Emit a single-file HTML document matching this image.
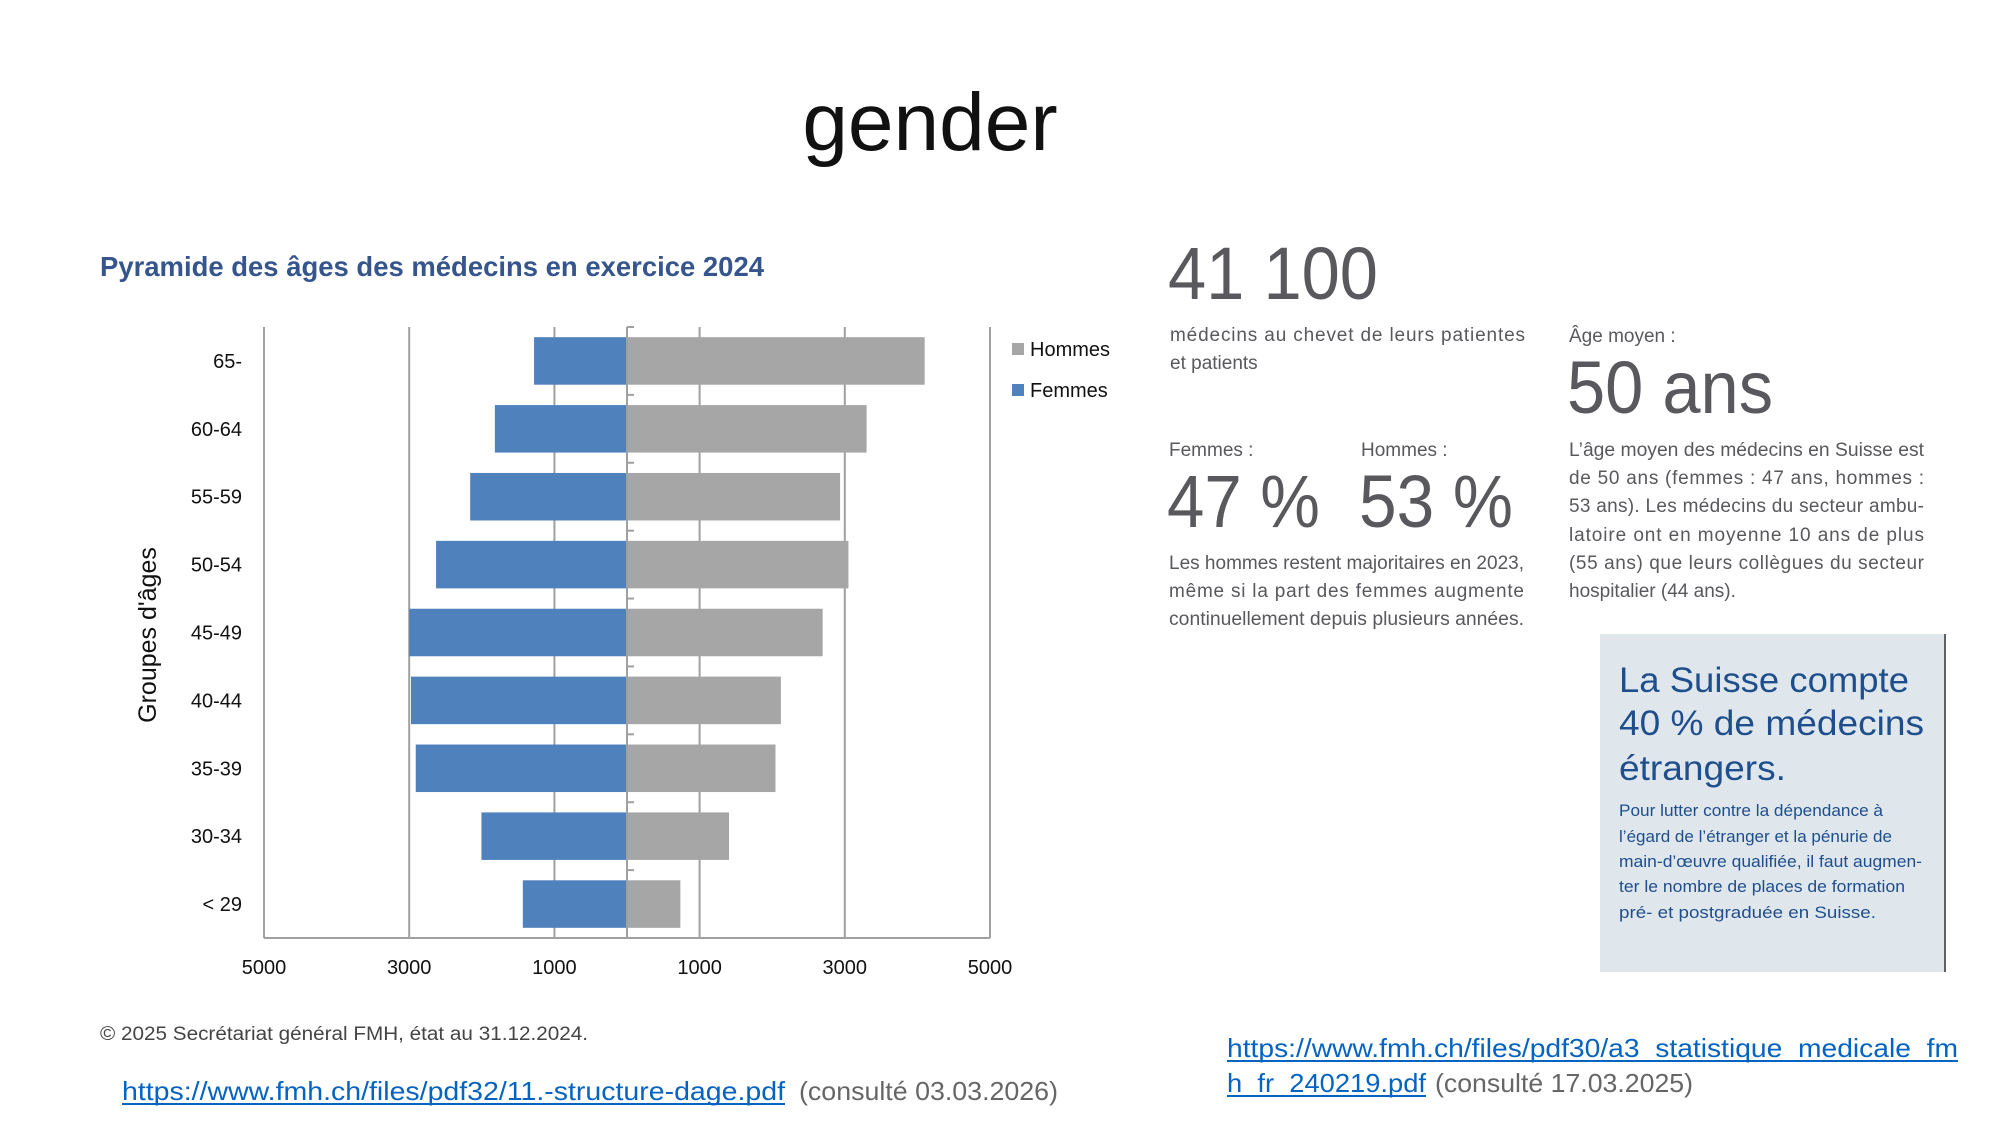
<!DOCTYPE html>
<html><head><meta charset="utf-8"><style>
html,body{margin:0;padding:0;background:#fff}
svg{display:block}
text{font-family:"Liberation Sans",sans-serif}
</style></head><body>
<svg id="s" width="2000" height="1125" viewBox="0 0 2000 1125">
<text x="930" y="150" font-size="82" text-anchor="middle" fill="#111">gender</text>
<text x="100" y="276" font-size="28" font-weight="bold" fill="#35558c" textLength="664" lengthAdjust="spacingAndGlyphs">Pyramide des âges des médecins en exercice 2024</text>
<g id="chart"></g>
<g>
<rect x="1012" y="343" width="12" height="12" fill="#a6a6a6"/>
<text x="1030" y="356" font-size="20" fill="#111">Hommes</text>
<rect x="1012" y="384" width="12" height="12" fill="#4f81bd"/>
<text x="1030" y="397" font-size="20" fill="#111">Femmes</text>
</g>
<g fill="#58585d">
<text x="1168" y="299" font-size="74" textLength="210" lengthAdjust="spacingAndGlyphs">41 100</text>
<text x="1170" y="341" font-size="19" textLength="355" lengthAdjust="spacing">médecins au chevet de leurs patientes</text>
<text x="1170" y="369" font-size="19">et patients</text>
<text x="1569" y="342" font-size="19">Âge moyen :</text>
<text x="1567" y="413" font-size="74" textLength="206" lengthAdjust="spacingAndGlyphs">50 ans</text>
<text x="1169" y="456" font-size="19">Femmes :</text>
<text x="1361" y="456" font-size="19">Hommes :</text>
<text x="1167" y="527" font-size="74" textLength="153" lengthAdjust="spacingAndGlyphs">47 %</text>
<text x="1359" y="527" font-size="74" textLength="154" lengthAdjust="spacingAndGlyphs">53 %</text>
<g font-size="19">
<text x="1169" y="569" textLength="355" lengthAdjust="spacingAndGlyphs">Les hommes restent majoritaires en 2023,</text>
<text x="1169" y="597" textLength="355" lengthAdjust="spacing">même si la part des femmes augmente</text>
<text x="1169" y="625" textLength="355" lengthAdjust="spacingAndGlyphs">continuellement depuis plusieurs années.</text>
</g>
<g font-size="19">
<text x="1569" y="456" textLength="355" lengthAdjust="spacingAndGlyphs">L’âge moyen des médecins en Suisse est</text>
<text x="1569" y="484" textLength="355" lengthAdjust="spacing">de 50 ans (femmes : 47 ans, hommes :</text>
<text x="1569" y="512" textLength="355" lengthAdjust="spacing">53 ans). Les médecins du secteur ambu-</text>
<text x="1569" y="541" textLength="355" lengthAdjust="spacing">latoire ont en moyenne 10 ans de plus</text>
<text x="1569" y="569" textLength="355" lengthAdjust="spacing">(55 ans) que leurs collègues du secteur</text>
<text x="1569" y="597">hospitalier (44 ans).</text>
</g>
</g>
<g>
<rect x="1600" y="634" width="346" height="338" fill="#dfe7ed"/>
<line x1="1945" y1="634" x2="1945" y2="972" stroke="#333" stroke-width="1.5"/>
<g fill="#1f4e8c" font-size="35">
<text x="1619" y="692" textLength="290" lengthAdjust="spacingAndGlyphs">La Suisse compte</text>
<text x="1619" y="735" textLength="305" lengthAdjust="spacingAndGlyphs">40 % de médecins</text>
<text x="1619" y="780" textLength="167" lengthAdjust="spacingAndGlyphs">étrangers.</text>
</g>
<g fill="#1f4e8c" font-size="16.5">
<text x="1619" y="816" textLength="264" lengthAdjust="spacingAndGlyphs">Pour lutter contre la dépendance à</text>
<text x="1619" y="842" textLength="273" lengthAdjust="spacingAndGlyphs">l’égard de l’étranger et la pénurie de</text>
<text x="1619" y="867" textLength="303" lengthAdjust="spacingAndGlyphs">main-d’œuvre qualifiée, il faut augmen-</text>
<text x="1619" y="892" textLength="286" lengthAdjust="spacingAndGlyphs">ter le nombre de places de formation</text>
<text x="1619" y="918" textLength="257" lengthAdjust="spacingAndGlyphs">pré- et postgraduée en Suisse.</text>
</g>
</g>
<text x="100" y="1040" font-size="19" fill="#444" textLength="488" lengthAdjust="spacingAndGlyphs">© 2025 Secrétariat général FMH, état au 31.12.2024.</text>
<text x="122" y="1100" font-size="26" fill="#0563c1" textLength="663" lengthAdjust="spacingAndGlyphs">https://www.fmh.ch/files/pdf32/11.-structure-dage.pdf</text>
<line x1="122" y1="1104" x2="785" y2="1104" stroke="#0563c1" stroke-width="2"/>
<text x="799" y="1100" font-size="26" fill="#666" textLength="259" lengthAdjust="spacingAndGlyphs">(consulté 03.03.2026)</text>
<text x="1227" y="1057" font-size="26" fill="#0563c1" textLength="731" lengthAdjust="spacingAndGlyphs">https://www.fmh.ch/files/pdf30/a3_statistique_medicale_fm</text>
<line x1="1227" y1="1061" x2="1958" y2="1061" stroke="#0563c1" stroke-width="2"/>
<text x="1227" y="1092" font-size="26" fill="#0563c1" textLength="199" lengthAdjust="spacingAndGlyphs">h_fr_240219.pdf</text>
<line x1="1227" y1="1096" x2="1426" y2="1096" stroke="#0563c1" stroke-width="2"/>
<text x="1435" y="1092" font-size="26" fill="#666" textLength="258" lengthAdjust="spacingAndGlyphs">(consulté 17.03.2025)</text>
</svg>
<script>
const categories = ["65-","60-64","55-59","50-54","45-49","40-44","35-39","30-34","< 29"];
const femmes = [1280,1820,2160,2630,3000,2975,2910,2005,1435];
const hommes = [4100,3300,2935,3050,2695,2120,2045,1405,735];
const tickValues = [-5000,-3000,-1000,1000,3000,5000];
const tickLabels = ["5000","3000","1000","1000","3000","5000"];
const NS="http://www.w3.org/2000/svg";
const chartG=document.getElementById('chart');
const plotLeft=264,plotRight=990,plotTop=327,plotBottom=938;
const xs=v=>plotLeft+(v+5000)/10000*(plotRight-plotLeft);
const band=(plotBottom-plotTop)/categories.length;
const yc=i=>plotTop+band*(i+0.5);
function mk(t,a){const e=document.createElementNS(NS,t);for(const k in a)e.setAttribute(k,a[k]);chartG.appendChild(e);return e;}
tickValues.forEach((v,i)=>{
 const l=mk('line',{x1:xs(v),x2:xs(v),y1:plotTop,y2:plotBottom,stroke:'#a0a0a0','stroke-width':2});
 
 
 const t=mk('text',{x:xs(v),y:974,'font-size':20,'text-anchor':'middle',fill:'#111'});
 t.textContent=tickLabels[i];
 
 
});
const ax=mk('line',{x1:plotLeft,x2:plotRight,y1:plotBottom,y2:plotBottom,stroke:'#a0a0a0','stroke-width':2});


const bh=band*0.7;
categories.forEach((c,i)=>{
 const f=mk('rect',{x:xs(-femmes[i]),y:yc(i)-bh/2,width:xs(0)-xs(-femmes[i]),height:bh,fill:'#4f81bd'});
 
 
 const h=mk('rect',{x:xs(0),y:yc(i)-bh/2,width:xs(hommes[i])-xs(0),height:bh,fill:'#a6a6a6'});
 
 
 const t=mk('text',{x:242,y:yc(i)+7,'font-size':20,'text-anchor':'end',fill:'#111'});
 t.textContent=c;
 
 
});
for(let i=0;i<=categories.length;i++){
 const tk=mk('line',{x1:xs(0),x2:xs(0)+7,y1:plotTop+band*i,y2:plotTop+band*i,stroke:'#a0a0a0','stroke-width':2});
 
 
}
const za=mk('line',{x1:xs(0),x2:xs(0),y1:plotTop,y2:plotBottom,stroke:'#a0a0a0','stroke-width':2});


const yt=mk('text',{x:0,y:0,'font-size':25,'text-anchor':'middle',fill:'#111',transform:'translate(156,635) rotate(-90)'});
yt.textContent="Groupes d'âges";


</script>
</body></html>
